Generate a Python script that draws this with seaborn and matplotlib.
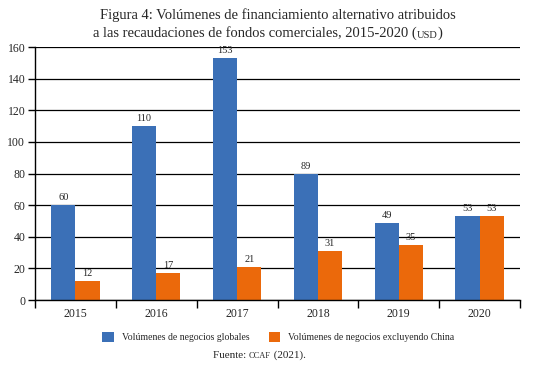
import pandas as pd
import matplotlib.pyplot as plt
import seaborn as sns

# Datos
anios = ["2015", "2016", "2017", "2018", "2019", "2020"]
globales = [60, 110, 153, 80, 49, 53]
sin_china = [12, 17, 21, 31, 35, 53]
etiquetas_globales = ["60", "110", "153", "89", "49", "53"]
etiquetas_sin_china = ["12", "17", "21", "31", "35", "53"]
series = ["Volúmenes de negocios globales", "Volúmenes de negocios excluyendo China"]
yticks = [0, 20, 40, 60, 80, 100, 120, 140, 160]

df = pd.DataFrame({
    "anio": anios * 2,
    "valor": globales + sin_china,
    "serie": [series[0]] * len(anios) + [series[1]] * len(anios),
})

sns.set_style("white")
plt.rcParams["font.family"] = ["Liberation Serif", "DejaVu Serif"]

fig = plt.figure(figsize=(5.35, 3.65), dpi=100)
ax = fig.add_axes([0.0654, 0.178, 0.9066, 0.693])

sns.barplot(data=df, x="anio", y="valor", hue="serie",
            palette=["#3B70B7", "#EB690B"], width=0.6, gap=0,
            saturation=1, linewidth=0, ax=ax)

# Etiquetas de valores
for cont, etiq in zip(ax.containers, [etiquetas_globales, etiquetas_sin_china]):
    ax.bar_label(cont, labels=etiq, padding=2, fontsize=7.5)

# Ejes y rejilla
ax.set_ylim(0, 160)
ax.set_yticks(yticks)
ax.set_xlim(-0.5, len(anios) - 0.5)
ax.yaxis.grid(True, color="black", linewidth=0.9)
ax.set_axisbelow(True)
for s in ["top", "right"]:
    ax.spines[s].set_visible(False)
for s in ["left", "bottom"]:
    ax.spines[s].set_color("black")
    ax.spines[s].set_linewidth(1.0)
ax.tick_params(axis="y", direction="out", length=5, width=1, color="black",
               labelsize=8.5, pad=2, left=True)
ax.tick_params(axis="x", which="major", length=0, labelsize=8.5, pad=6)
ax.set_xticks([i - 0.5 for i in range(len(anios) + 1)], minor=True)
ax.tick_params(axis="x", which="minor", direction="out", length=6, width=1,
               color="black", bottom=True)
ax.set_xlabel("")
ax.set_ylabel("")

# Leyenda
handles, labels = ax.get_legend_handles_labels()
ax.legend_.remove()
fig.legend(handles, labels, loc="center", bbox_to_anchor=(0.52, 0.077), ncol=2,
           frameon=False, fontsize=7, handlelength=1.2, handleheight=1.2,
           columnspacing=2.0, handletextpad=0.8)

# Título (USD en versalitas)
fig.text(0.52, 0.958, "Figura 4: Volúmenes de financiamiento alternativo atribuidos",
         ha="center", va="center", fontsize=10.5)
t = fig.text(0.174, 0.91, "a las recaudaciones de fondos comerciales, 2015-2020 (",
             ha="left", va="center", fontsize=10.5)
u = ax.annotate("USD", xy=(1, 0), xycoords=t, va="bottom", fontsize=7.5,
                annotation_clip=False)
ax.annotate(")", xy=(1, 0), xycoords=u, va="bottom", fontsize=10.5,
            annotation_clip=False)

# Fuente
f = fig.text(0.398, 0.027, "Fuente: ", ha="left", va="center", fontsize=8)
c = ax.annotate("CCAF", xy=(1, 0), xycoords=f, va="bottom", fontsize=6,
                annotation_clip=False)
ax.annotate(" (2021).", xy=(1, 0), xycoords=c, va="bottom", fontsize=8,
            annotation_clip=False)

fig.savefig("out.png", dpi=100)
